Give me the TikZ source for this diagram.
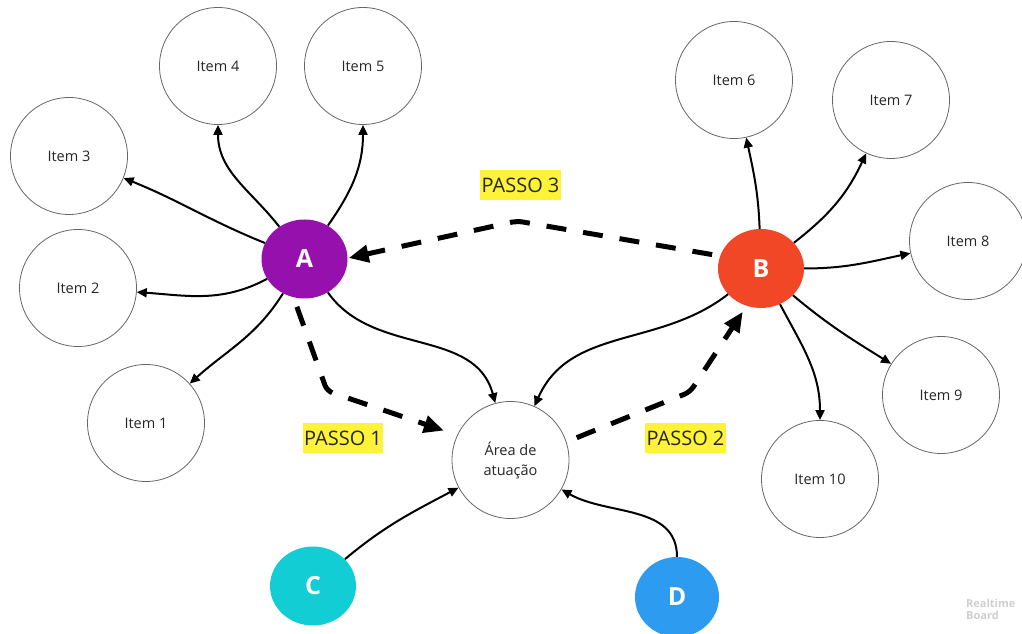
\documentclass[tikz,border=0pt]{standalone}
\usepackage{fontspec}
\setmainfont{Open Sans}
\usetikzlibrary{arrows.meta,shapes.geometric}
\definecolor{hubA}{HTML}{9510AC}
\definecolor{hubB}{HTML}{F24726}
\definecolor{hubC}{HTML}{12CDD4}
\definecolor{hubD}{HTML}{2D9BF0}
\definecolor{ringgray}{HTML}{666666}
\definecolor{txt}{HTML}{262626}
\definecolor{marker}{HTML}{FFF33A}
\definecolor{wmark}{HTML}{CFCFCF}
\begin{document}
\begin{tikzpicture}[x=1pt,y=1pt,
  item/.style={circle, draw=ringgray, line width=0.8pt, minimum size=117pt,
    inner sep=0pt, text=txt, align=center,
    font=\fontsize{14.5}{20}\selectfont},
  hub/.style={ellipse, minimum width=86pt, minimum height=79pt, inner sep=0pt,
    text=white, font=\fontsize{25}{30}\selectfont\bfseries},
  conn/.style={line width=2pt, -{Triangle[length=10pt,width=9pt]}},
  stepline/.style={line width=5pt, dash pattern=on 20pt off 17pt,
    -{Triangle[length=20pt,width=17pt]}},
  steplabel/.style={fill=marker, text=txt, inner xsep=1.2pt, inner ysep=0pt,
    minimum height=30pt, font=\fontsize{20}{24}\selectfont}
]
\useasboundingbox (0,0) rectangle (1022,634);
\fill[white] (0,0) rectangle (1022,634);

% hubs
\node[hub, fill=hubA] (A) at (304.5,375) {A};
\node[hub, fill=hubB] (B) at (761,365.5) {B};
\node[hub, fill=hubC] (C) at (313,48) {C};
\node[hub, fill=hubD, minimum width=84pt, minimum height=80pt] (D) at (677,37) {D};

% central area
\node[item] (area) at (510.5,174) {Área de\\atuação};

% items around A
\node[item] (I1) at (146,211) {Item 1};
\node[item] (I2) at (78,346) {Item 2};
\node[item] (I3) at (69,478) {Item 3};
\node[item] (I4) at (218,568) {Item 4};
\node[item] (I5) at (363,568) {Item 5};

% items around B
\node[item] (I6) at (734,554) {Item 6};
\node[item] (I7) at (891,534) {Item 7};
\node[item] (I8) at (968,393) {Item 8};
\node[item] (I9) at (941,239) {Item 9};
\node[item] (I10) at (820,155) {Item 10};

% connectors from A
\draw[conn] (A) to[out=128,in=-90] (I4);
\draw[conn] (A) to[out=55,in=-90] (I5);
\draw[conn] (A) to[out=158,in=-22] (I3);
\draw[conn] (A) to[out=208,in=-4] (I2);
\draw[conn] (A) to[out=238,in=42] (I1);
\draw[conn] (A) to[out=-55,in=105] (area);

% connectors from B
\draw[conn] (B) to[out=92,in=-78] (I6);
\draw[conn] (B) to[out=38,in=-115] (I7);
\draw[conn] (B) to[out=0,in=192] (I8);
\draw[conn] (B) to[out=-40,in=148] (I9);
\draw[conn] (B) to[out=-62,in=90] (I10);
\draw[conn] (B) to[out=218,in=66] (area);

% connectors into the central area
\draw[conn] (C) to[out=40,in=208] (area);
\draw[conn] (D) to[out=90,in=-30] (area);

% step paths
\coordinate (p1) at (327,243);
\coordinate (p2) at (690,242);
\coordinate (p3) at (517,413);
\draw[stepline, rounded corners=6pt, shorten <=10pt, shorten >=14pt]
  (A.-106) -- (p1) -- (area.155);
\draw[stepline, rounded corners=6pt, shorten <=11pt, shorten >=7pt]
  (area.18) -- (p2) -- (B.-111);
\draw[stepline, rounded corners=6pt, shorten <=8pt, shorten >=1pt]
  (B.163) -- (p3) -- (A.1);

% step labels
\node[steplabel] (s1) at (343,195.5) {PASSO 1};
\node[steplabel] (s2) at (685.5,196) {PASSO 2};
\node[steplabel] (s3) at (520.5,449) {PASSO 3};

% watermark
\node[anchor=north west, inner sep=0pt, align=left, text=wmark,
  font=\fontsize{11}{11.5}\selectfont\bfseries] (wm) at (966,35) {Realtime\\Board};
\end{tikzpicture}
\end{document}
